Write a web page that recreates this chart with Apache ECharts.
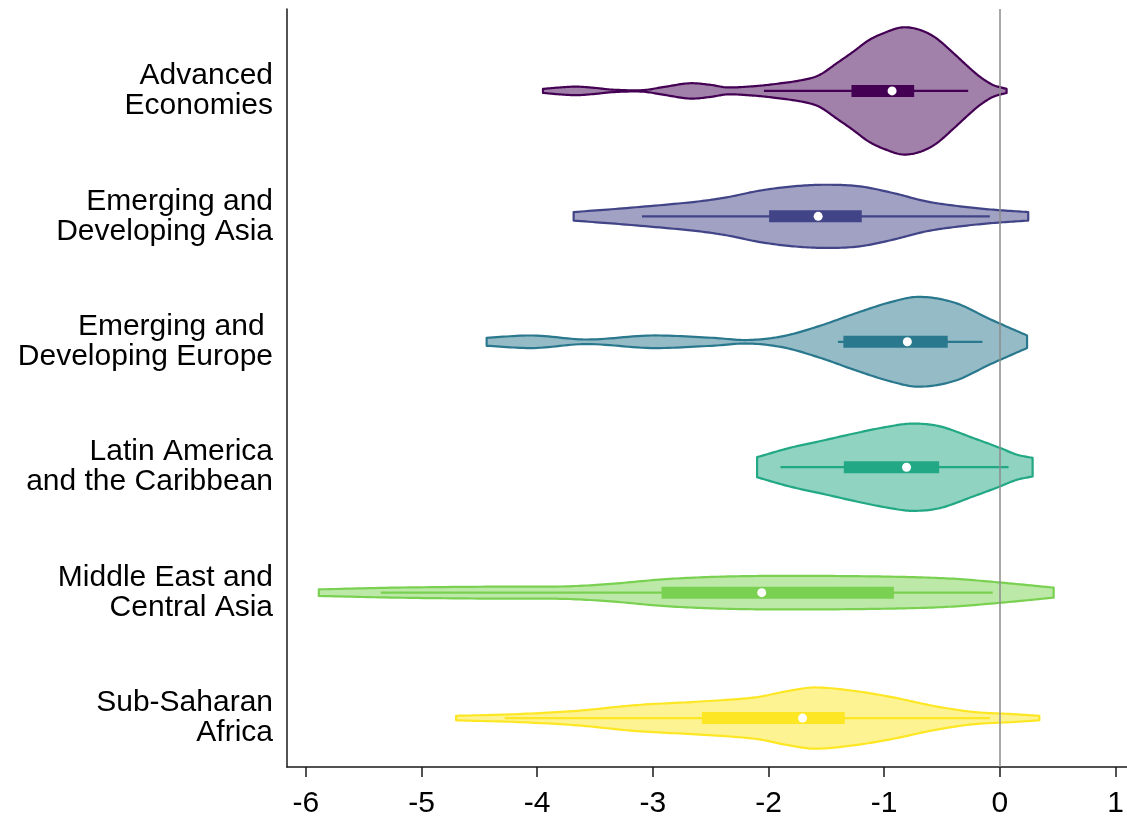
<!DOCTYPE html>
<html>
<head>
<meta charset="utf-8">
<script src="https://cdn.jsdelivr.net/npm/echarts@6/dist/echarts.min.js"></script>
<style>
  html, body { margin: 0; padding: 0; background: #ffffff; }
  #chart { width: 1127px; height: 819px; }
</style>
</head>
<body>
<div id="chart"></div>
<script>
// Region names, listed top to bottom
const regions = [
  'Advanced\nEconomies',
  'Emerging and\nDeveloping Asia',
  'Emerging and \nDeveloping Europe',
  'Latin America\nand the Caribbean',
  'Middle East and\nCentral Asia',
  'Sub-Saharan\nAfrica'
];

// Tick values of the horizontal axis
const xTicks = [-6, -5, -4, -3, -2, -1, 0, 1];

// Violin outlines: sample positions and half-widths (in row units)
const advX  = [-3.95, -3.80, -3.66, -3.50, -3.35, -3.09, -2.90, -2.68, -2.50, -2.36, -2.15, -1.96, -1.70, -1.56, -1.41, -1.27, -1.13, -0.98, -0.84, -0.69, -0.55, -0.40, -0.26, -0.17, -0.06, 0.058];
const advW  = [0.016, 0.028, 0.034, 0.024, 0.010, 0.006, 0.032, 0.061, 0.048, 0.028, 0.036, 0.053, 0.088, 0.127, 0.221, 0.311, 0.406, 0.470, 0.507, 0.486, 0.420, 0.300, 0.181, 0.111, 0.048, 0.016];

const asiaX = [-3.685, -3.229, -2.653, -2.365, -2.076, -1.788, -1.499, -1.211, -0.923, -0.634, -0.346, -0.058, 0.245];
const asiaW = [0.034, 0.066, 0.114, 0.151, 0.205, 0.239, 0.252, 0.239, 0.186, 0.119, 0.080, 0.053, 0.034];

const eurX  = [-4.437, -4.035, -3.572, -3.015, -2.490, -2.181, -1.872, -1.563, -1.254, -0.945, -0.698, -0.389, -0.080, 0.235];
const eurW  = [0.032, 0.050, 0.018, 0.050, 0.032, 0.014, 0.045, 0.125, 0.225, 0.316, 0.358, 0.311, 0.178, 0.050];

const latX  = [-2.099, -1.817, -1.528, -1.240, -0.952, -0.750, -0.519, -0.231, 0.000, 0.144, 0.283];
const latW  = [0.080, 0.154, 0.213, 0.273, 0.326, 0.348, 0.326, 0.233, 0.154, 0.101, 0.074];

const meX   = [-5.888, -5.218, -4.381, -3.753, -3.335, -2.917, -2.498, -2.080, -1.452, -0.824, -0.406, 0.013, 0.465];
const meW   = [0.026, 0.040, 0.048, 0.050, 0.072, 0.106, 0.125, 0.133, 0.133, 0.125, 0.111, 0.080, 0.040];

const ssaX  = [-4.701, -4.162, -3.651, -3.138, -2.627, -2.115, -1.843, -1.604, -1.263, -0.921, -0.580, -0.240, 0.102, 0.341];
const ssaW  = [0.018, 0.032, 0.058, 0.104, 0.130, 0.165, 0.214, 0.244, 0.217, 0.165, 0.098, 0.050, 0.032, 0.018];

// Box-plot summaries per region (same order as regions)
const whiskerLow  = [-2.040, -3.094, -1.400, -1.897, -5.352, -4.281];
const quart1      = [-1.283, -1.995, -1.353, -1.349, -2.925, -2.576];
const medians     = [-0.932, -1.571, -0.800, -0.807, -2.059, -1.706];
const quart3      = [-0.741, -1.194, -0.451, -0.525, -0.916, -1.341];
const whiskerHigh = [-0.274, -0.087, -0.151, 0.075, -0.062, -0.086];

// Viridis palette, one colour per region
const colors = ['#440154', '#414487', '#2A788E', '#22A884', '#7AD151', '#FDE725'];

const outlines = [
  [advX, advW], [asiaX, asiaW], [eurX, eurW],
  [latX, latW], [meX, meW], [ssaX, ssaW]
];

function withAlpha(hex, a) {
  const n = parseInt(hex.slice(1), 16);
  return 'rgba(' + ((n >> 16) & 255) + ',' + ((n >> 8) & 255) + ',' + (n & 255) + ',' + a + ')';
}

// Catmull-Rom style Hermite curve through the outline samples (drawing only)
function smoothOutline(xs, ws, steps) {
  const n = xs.length, m = new Array(n);
  for (let k = 0; k < n; k++) {
    const a = Math.max(k - 1, 0), b = Math.min(k + 1, n - 1);
    m[k] = (ws[b] - ws[a]) / (xs[b] - xs[a]);
  }
  const out = [];
  for (let k = 0; k < n - 1; k++) {
    const h = xs[k + 1] - xs[k];
    for (let s = 0; s < steps; s++) {
      const t = s / steps, t2 = t * t, t3 = t2 * t;
      const y = (2 * t3 - 3 * t2 + 1) * ws[k] + (t3 - 2 * t2 + t) * h * m[k]
              + (-2 * t3 + 3 * t2) * ws[k + 1] + (t3 - t2) * h * m[k + 1];
      out.push([xs[k] + t * h, Math.max(y, 0.004)]);
    }
  }
  out.push([xs[n - 1], ws[n - 1]]);
  return out;
}

// Row position on the vertical value axis: top region sits highest
const rowPos = regions.map((_, i) => regions.length - 1 - i);

const violinData = regions.map((_, i) => [medians[i], rowPos[i], i]);

function renderViolin(params, api) {
  const i = api.value(2);
  const yc = rowPos[i];
  const color = colors[i];
  const curve = smoothOutline(outlines[i][0], outlines[i][1], 14);
  const pts = [];
  for (let k = 0; k < curve.length; k++) pts.push(api.coord([curve[k][0], yc + curve[k][1]]));
  for (let k = curve.length - 1; k >= 0; k--) pts.push(api.coord([curve[k][0], yc - curve[k][1]]));

  const lo = api.coord([whiskerLow[i], yc]);
  const hi = api.coord([whiskerHigh[i], yc]);
  const b1 = api.coord([quart1[i], yc]);
  const b3 = api.coord([quart3[i], yc]);
  const md = api.coord([medians[i], yc]);
  const boxH = 12;

  return {
    type: 'group',
    children: [
      {
        type: 'polygon',
        shape: { points: pts },
        style: { fill: withAlpha(color, 0.5), stroke: color, lineWidth: 2.2, lineJoin: 'round' }
      },
      {
        type: 'line',
        shape: { x1: lo[0], y1: lo[1], x2: hi[0], y2: hi[1] },
        style: { stroke: color, lineWidth: 2.2 }
      },
      {
        type: 'rect',
        shape: { x: b1[0], y: b1[1] - boxH / 2, width: b3[0] - b1[0], height: boxH },
        style: { fill: color }
      },
      {
        type: 'circle',
        shape: { cx: md[0], cy: md[1], r: 4.5 },
        style: { fill: '#ffffff' }
      }
    ]
  };
}

const chart = echarts.init(document.getElementById('chart'), null, { renderer: 'canvas' });

const font = '"Liberation Sans", Arial, sans-serif';

chart.setOption({
  animation: false,
  backgroundColor: '#ffffff',
  grid: { left: 287, right: 0, top: 9, bottom: 51, containLabel: false },
  xAxis: {
    type: 'value',
    min: -6.163,
    max: 1.099,
    axisLine: { show: true, onZero: false, lineStyle: { color: '#1a1a1a', width: 1.5 } },
    axisTick: { show: true, length: 10, lineStyle: { color: '#1a1a1a', width: 1.5 }, customValues: xTicks },
    axisLabel: {
      color: '#000000', fontSize: 30, fontFamily: font, margin: 22,
      customValues: xTicks,
      formatter: v => String(v)
    },
    splitLine: { show: false }
  },
  yAxis: {
    type: 'value',
    min: -0.39,
    max: 5.653,
    axisLine: { show: true, onZero: false, lineStyle: { color: '#1a1a1a', width: 1.5 } },
    axisTick: { show: false },
    axisLabel: {
      color: '#000000', fontSize: 30, fontFamily: font, margin: 14,
      lineHeight: 30, align: 'right',
      customValues: rowPos,
      formatter: v => regions[regions.length - 1 - Math.round(v)]
    },
    splitLine: { show: false }
  },
  series: [
    {
      type: 'custom',
      coordinateSystem: 'cartesian2d',
      renderItem: renderViolin,
      data: violinData,
      encode: { x: 0, y: 1 },
      clip: false,
      z: 2
    },
    {
      type: 'line',
      data: [],
      z: 5,
      markLine: {
        silent: true,
        symbol: ['none', 'none'],
        label: { show: false },
        lineStyle: { color: '#8c8c8c', width: 1.5, type: 'solid' },
        data: [{ xAxis: 0 }]
      }
    }
  ]
});
</script>
</body>
</html>
